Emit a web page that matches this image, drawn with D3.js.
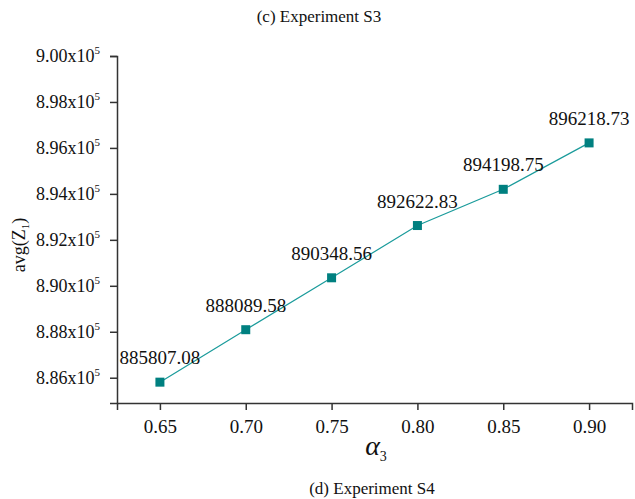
<!DOCTYPE html>
<html>
<head>
<meta charset="utf-8">
<script src="https://cdn.jsdelivr.net/npm/d3@7"></script>
<style>
  body { margin: 0; background: #fff; }
</style>
</head>
<body>
<svg id="chart" width="635" height="499"></svg>
<script>
// data
const alphaValues = [0.65, 0.70, 0.75, 0.80, 0.85, 0.90];
const avgZ = [885807.08, 888089.58, 890348.56, 892622.83, 894198.75, 896218.73];
const pointLabels = ["885807.08", "888089.58", "890348.56", "892622.83", "894198.75", "896218.73"];
const xTicks = [0.65, 0.70, 0.75, 0.80, 0.85, 0.90];
const xMinorTicks = [0.625, 0.675, 0.725, 0.775, 0.825, 0.875, 0.925];
const yTicks = [886000, 888000, 890000, 892000, 894000, 896000, 898000, 900000];
const yMinorTicks = [887000, 889000, 891000, 893000, 895000, 897000, 899000];

const width = 635;
const height = 499;
const margin = { top: 56, right: 3, bottom: 96, left: 117 };
const serif = "'Liberation Serif', 'Times New Roman', Times, 'DejaVu Serif', serif";

const svg = d3.select("#chart");

const x = d3.scaleLinear()
  .domain([0.625, 0.925])
  .range([margin.left, width - margin.right]);

const y = d3.scaleLinear()
  .domain([884900, 900000])
  .range([height - margin.bottom, margin.top]);

const axisColor = "#333";
const teal = "#008080";

// x axis
const xAxisG = svg.append("g")
  .attr("transform", `translate(0,${height - margin.bottom})`);

xAxisG.call(d3.axisBottom(x).tickValues(xMinorTicks).tickSize(4).tickFormat(""));
xAxisG.call(d3.axisBottom(x).tickValues(xTicks).tickSize(7).tickFormat(d3.format(".2f")));
xAxisG.attr("font-family", null);
xAxisG.selectAll(".domain").attr("stroke", axisColor).attr("stroke-width", 1.5);
xAxisG.selectAll(".tick line").attr("stroke", axisColor).attr("stroke-width", 1.5);
xAxisG.selectAll(".tick text")
  .style("font-family", serif)
  .style("font-size", "19px")
  .attr("fill", "#111")
  .attr("dy", "1.05em");

// y axis
const yAxisG = svg.append("g")
  .attr("transform", `translate(${margin.left},0)`);

yAxisG.call(d3.axisLeft(y).tickValues(yMinorTicks).tickSize(4).tickFormat(""));
yAxisG.call(d3.axisLeft(y).tickValues(yTicks).tickSize(7).tickFormat(""));
yAxisG.selectAll(".domain").attr("stroke", axisColor).attr("stroke-width", 1.5);
yAxisG.selectAll(".tick line").attr("stroke", axisColor).attr("stroke-width", 1.5);

// y tick labels as mantissa x10 with superscript 5
const yLabel = svg.append("g");
yTicks.forEach((v) => {
  const t = yLabel.append("text")
    .attr("x", margin.left - 17)
    .attr("y", y(v) + 6)
    .attr("text-anchor", "end")
    .style("font-family", serif)
    .style("font-size", "18px")
    .attr("fill", "#111");
  t.append("tspan").text((v / 1e5).toFixed(2) + "x10");
  t.append("tspan")
    .style("font-size", "11px")
    .attr("dy", -8)
    .text("5");
});

// line
const line = d3.line()
  .x((d, i) => x(alphaValues[i]))
  .y((d) => y(d));

svg.append("path")
  .datum(avgZ)
  .attr("fill", "none")
  .attr("stroke", "#1a9b9b")
  .attr("stroke-width", 1.2)
  .attr("d", line);

// markers
const ms = 9;
svg.selectAll(".marker")
  .data(avgZ)
  .enter()
  .append("rect")
  .attr("class", "marker")
  .attr("x", (d, i) => x(alphaValues[i]) - ms / 2)
  .attr("y", (d) => y(d) - ms / 2)
  .attr("width", ms)
  .attr("height", ms)
  .attr("fill", teal);

// point labels
svg.selectAll(".plabel")
  .data(avgZ)
  .enter()
  .append("text")
  .attr("class", "plabel")
  .attr("x", (d, i) => x(alphaValues[i]))
  .attr("y", (d) => y(d) - 18)
  .attr("text-anchor", "middle")
  .style("font-family", serif)
  .style("font-size", "19px")
  .attr("fill", "#111")
  .text((d, i) => pointLabels[i]);

// axis titles
const xTitle = svg.append("text")
  .attr("x", 376)
  .attr("y", 455)
  .attr("text-anchor", "middle")
  .style("font-family", serif)
  .attr("fill", "#111");
xTitle.append("tspan")
  .style("font-style", "italic")
  .style("font-size", "28px")
  .text("α");
xTitle.append("tspan")
  .style("font-size", "14px")
  .attr("dy", 6)
  .text("3");

const yTitle = svg.append("text")
  .attr("transform", "translate(25,245) rotate(-90)")
  .attr("text-anchor", "middle")
  .style("font-family", serif)
  .style("font-size", "18px")
  .attr("fill", "#111");
yTitle.append("tspan").text("avg(Z");
yTitle.append("tspan").style("font-size", "11px").attr("dy", 4).text("1");
yTitle.append("tspan").attr("dy", -4).text(")");

// captions
svg.append("text")
  .attr("x", 319)
  .attr("y", 22)
  .attr("text-anchor", "middle")
  .style("font-family", serif)
  .style("font-size", "17px")
  .attr("fill", "#111")
  .text("(c) Experiment S3");

svg.append("text")
  .attr("x", 372)
  .attr("y", 494)
  .attr("text-anchor", "middle")
  .style("font-family", serif)
  .style("font-size", "17px")
  .attr("fill", "#111")
  .text("(d) Experiment S4");
</script>
</body>
</html>
